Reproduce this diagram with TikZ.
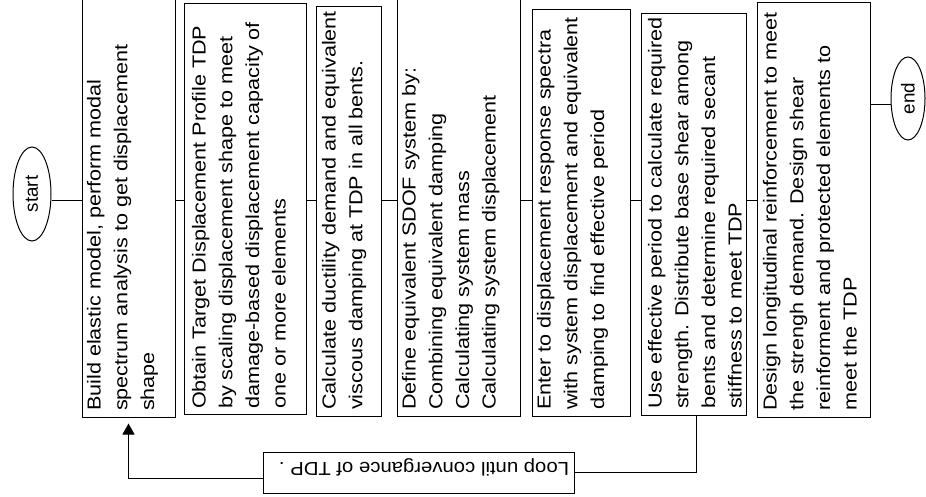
\documentclass[tikz,border=0pt]{standalone}
\usepackage{fontspec}
\setmainfont{Liberation Sans}
\usetikzlibrary{arrows.meta,shapes.geometric,calc}
\begin{document}
\begin{tikzpicture}[x=1pt,y=-1pt,
  line width=1pt,
  stepbox/.style={draw, inner sep=0pt},
  txt/.style={rotate=90, xscale=1.15, anchor=north west, align=left, inner sep=0pt,
    font=\fontsize{18.8}{26.7}\selectfont},
  term/.style={draw, ellipse, rotate=90, inner sep=0pt, font=\fontsize{18.8}{22}\selectfont},
  arr/.style={-{Triangle[width=12pt,length=11pt]}, shorten >=6pt}
]
\useasboundingbox (0,0) rectangle (926,497);

% terminals
\node[term, minimum width=94, minimum height=38] (start) at (32,194) {start};
\node[term, minimum width=83, minimum height=34] (end) at (908,98.5) {end};

% boxes
\node[stepbox, minimum width=93,  minimum height=417] (b1) at (128.5,208.5) {};
\node[stepbox, minimum width=122, minimum height=410] (b2) at (245,209) {};
\node[stepbox, minimum width=65,  minimum height=409] (b3) at (348.5,211.5) {};
\node[stepbox, minimum width=123, minimum height=416] (b4) at (458.5,208) {};
\node[stepbox, minimum width=98,  minimum height=406] (b5) at (581,213) {};
\node[stepbox, minimum width=105, minimum height=401] (b6) at (693.5,214.5) {};
\node[stepbox, minimum width=113, minimum height=414] (b7) at (813.5,210) {};

% texts
\node[txt] (t1) at ($(b1.south west)+(5,-6)$) {Build elastic model, perform modal\\spectrum analysis to get displacement\\shape};
\node[txt] (t2) at ($(b2.south west)+(8,-5)$) {Obtain Target Displacement Profile TDP\\by scaling displacement shape to meet\\damage-based displacement capacity of\\one or more elements};
\node[txt] (t3) at ($(b3.south west)+(6,-6)$) {Calculate ductility demand and equivalent\\viscous damping at TDP in all bents.};
\node[txt] (t4) at ($(b4.south west)+(5,-6)$) {Define equivalent SDOF system by:\\Combining equivalent damping\\Calculating system mass\\Calculating system displacement};
\node[txt] (t5) at ($(b5.south west)+(5,-6)$) {Enter to displacement response spectra\\with system displacement and equivalent\\damping to find effective period};
\node[txt] (t6) at ($(b6.south west)+(7,-6)$) {Use effective period to calculate required\\strength. Distribute base shear among\\bents and determine required secant\\stiffness to meet TDP};
\node[txt] (t7) at ($(b7.south west)+(6,-6)$) {Design longitudinal reinforcement to meet\\the strengh demand. Design shear\\reinforment and protected elements to\\meet the TDP};

% loop box
\node[stepbox, minimum width=311, minimum height=41] (loop) at (418.5,472.5) {};
\node[rotate=180, xscale=1.08, inner sep=0pt, font=\fontsize{18.8}{22}\selectfont] (loopt) at (424,467) {Loop until convergance of TDP .};

% rows
\coordinate (row) at (0,200.5);
\coordinate (rowend) at (0,105);
\coordinate (lx) at (696,0);
\coordinate (lrow) at (0,478);

% connectors
\draw (start.south |- row) -- (b1.west |- row);
\draw (b1.east |- row) -- (b2.west |- row);
\draw (b2.east |- row) -- (b3.west |- row);
\draw (b3.east |- row) -- (b4.west |- row);
\draw (b4.east |- row) -- (b5.west |- row);
\draw (b5.east |- row) -- (b6.west |- row);
\draw (b6.east |- row) -- (b7.west |- row);
\draw (b7.east |- rowend) -- (end.north |- rowend);

\draw (b6.south -| lx) |- (loop.east);
\draw[arr] (loop.west |- lrow) -| (b1.south);
\end{tikzpicture}
\end{document}
